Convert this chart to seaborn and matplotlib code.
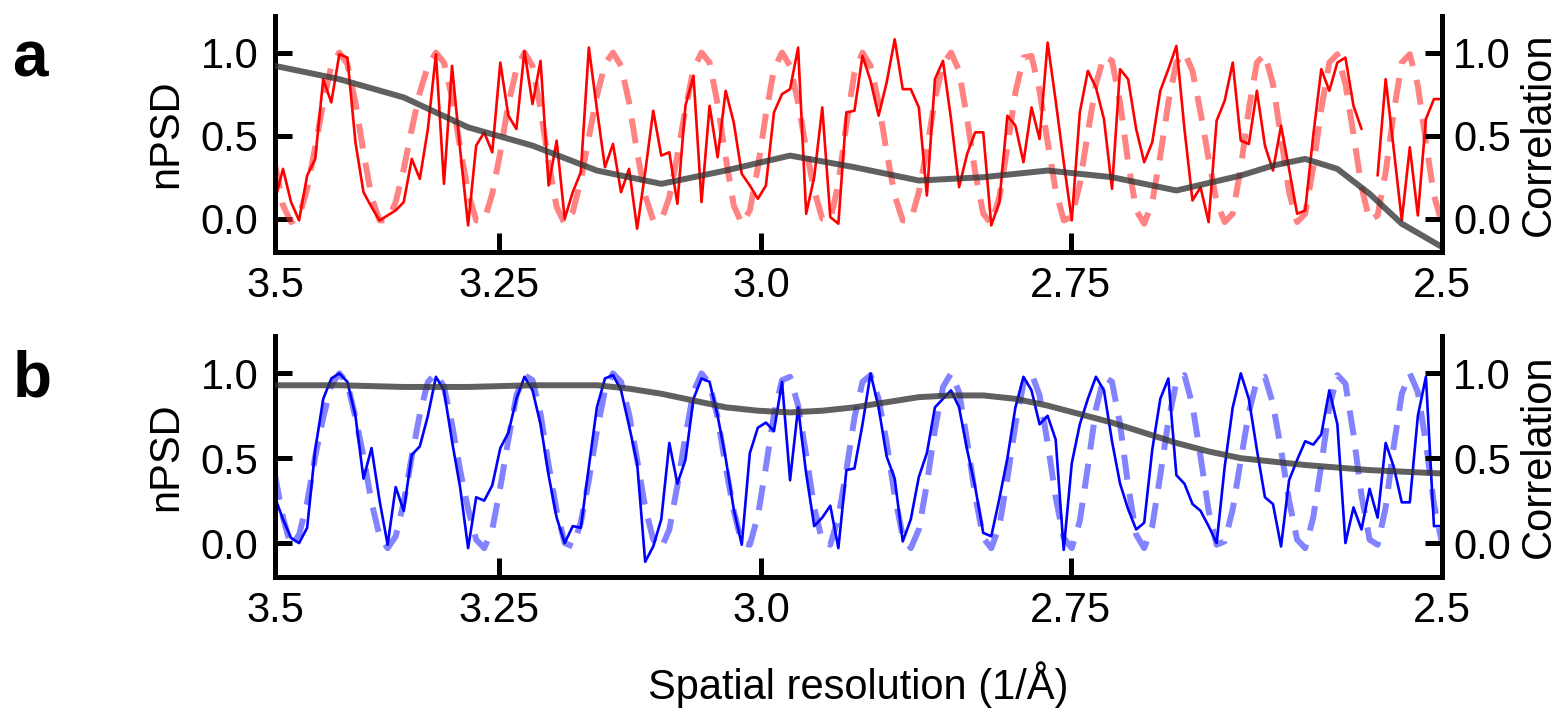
import numpy as np
import pandas as pd
import seaborn as sns
import matplotlib.pyplot as plt

# sample grid in spatial frequency (1/A), axis labelled by resolution
res_ticks = [3.5, 3.25, 3.0, 2.75, 2.5]
res_labels = ["3.5", "3.25", "3.0", "2.75", "2.5"]
n_pts = 146

red_psd = [0.11, 0.30, 0.10, -0.01, 0.26, 0.36, 0.84, 0.70, 0.99, 0.97,
           0.46, 0.16, 0.07, -0.01, 0.02, 0.05, 0.10, 0.36, 0.24, 0.54,
           0.99, 0.21, 0.92, 0.42, -0.04, 0.44, 0.52, 0.40, 0.94, 0.62,
           0.54, 1.01, 0.69, 0.95, 0.20, 0.47, 0.00, 0.16, 0.28, 1.03,
           0.66, 0.31, 0.45, 0.16, 0.30, -0.06, 0.28, 0.65, 0.38, 0.40,
           0.09, 0.68, 0.86, 0.10, 0.68, 0.37, 0.77, 0.58, 0.27, 0.20,
           0.12, 0.20, 0.64, 0.75, 0.78, 1.03, 0.03, 0.25, 0.67, 0.01,
           -0.03, 0.64, 0.65, 0.98, 0.83, 0.62, 0.82, 1.08, 0.78, 0.78,
           0.67, 0.14, 0.84, 0.95, 0.60, 0.19, 0.39, 0.52, 0.52, -0.04,
           0.10, 0.62, 0.56, 0.34, 0.67, 0.48, 1.06, 0.71, 0.34, -0.01,
           0.64, 0.89, 0.79, 0.60, 0.18, 0.90, 0.84, 0.54, 0.34, 0.46,
           0.77, 0.90, 1.04, 0.54, 0.11, 0.19, -0.02, 0.59, 0.71, 0.94,
           0.47, 0.45, 0.77, 0.44, 0.29, 0.56, 0.30, 0.03, 0.05, 0.50,
           0.90, 0.77, 0.94, 0.97, 0.68, 0.54, np.nan, 0.26, 0.84, 0.42,
           -0.01, 0.43, 0.02, 0.60, 0.72, 0.72]

red_fit = [0.33, 0.08, -0.02, 0.01, 0.18, 0.43, 0.70, 0.92, 1.00, 0.93,
           0.70, 0.40, 0.13, -0.01, -0.01, 0.10, 0.30, 0.54, 0.76, 0.92,
           1.00, 0.94, 0.73, 0.43, 0.16, -0.01, -0.01, 0.15, 0.40, 0.69,
           0.90, 1.00, 0.92, 0.66, 0.34, 0.07, -0.03, 0.04, 0.23, 0.49,
           0.74, 0.93, 1.00, 0.92, 0.70, 0.40, 0.14, -0.01, -0.01, 0.13,
           0.38, 0.66, 0.90, 1.00, 0.94, 0.69, 0.37, 0.08, -0.03, 0.05,
           0.31, 0.63, 0.90, 1.00, 0.92, 0.70, 0.42, 0.17, 0.00, -0.01,
           0.21, 0.57, 0.88, 1.00, 0.92, 0.70, 0.40, 0.14, -0.01, -0.01,
           0.16, 0.42, 0.72, 0.93, 1.00, 0.89, 0.60, 0.28, 0.03, -0.03,
           0.13, 0.43, 0.76, 0.97, 0.98, 0.77, 0.46, 0.17, -0.01, 0.01,
           0.21, 0.52, 0.81, 0.98, 0.95, 0.70, 0.34, 0.05, -0.03, 0.10,
           0.38, 0.70, 0.94, 1.00, 0.89, 0.64, 0.36, 0.10, -0.02, 0.03,
           0.31, 0.66, 0.94, 0.99, 0.81, 0.49, 0.16, -0.02, 0.03, 0.31,
           0.66, 0.94, 0.99, 0.81, 0.51, 0.19, -0.01, 0.02, 0.28, 0.64,
           0.94, 0.99, 0.80, 0.46, 0.14, -0.03]

corr_a_idx = [0, 8, 16, 24, 32, 40, 48, 56, 64, 72, 80, 88, 96, 104, 112,
              120, 124, 128, 132, 136, 140, 145]
corr_a = [0.92, 0.84, 0.73, 0.55, 0.44, 0.29, 0.21, 0.29, 0.38, 0.31, 0.23,
          0.25, 0.29, 0.25, 0.17, 0.26, 0.32, 0.36, 0.30, 0.15, -0.03, -0.17]

blue_psd = [0.27, 0.14, 0.03, 0.00, 0.09, 0.55, 0.85, 0.97, 1.00, 0.95,
            0.75, 0.38, 0.56, 0.25, -0.01, 0.33, 0.19, 0.52, 0.57, 0.75,
            0.98, 0.90, 0.60, 0.33, -0.03, 0.27, 0.25, 0.34, 0.56, 0.65,
            0.85, 0.98, 0.90, 0.70, 0.40, 0.15, 0.00, 0.10, 0.09, 0.45,
            0.80, 0.97, 0.99, 0.90, 0.69, 0.47, -0.11, -0.02, 0.14, 0.59,
            0.35, 0.49, 0.85, 0.97, 0.95, 0.75, 0.50, 0.20, -0.01, 0.53,
            0.68, 0.71, 0.66, 0.95, 0.37, 0.80, 0.41, 0.10, 0.15, 0.22,
            -0.03, 0.43, 0.44, 0.70, 1.00, 0.80, 0.51, 0.38, 0.01, 0.14,
            0.39, 0.53, 0.80, 0.85, 0.90, 0.80, 0.55, 0.33, 0.06, 0.04,
            0.26, 0.50, 0.80, 0.98, 0.90, 0.70, 0.75, 0.61, -0.04, 0.47,
            0.70, 0.85, 0.98, 0.90, 0.60, 0.35, 0.20, 0.08, 0.12, 0.55,
            0.85, 0.97, 0.40, 0.35, 0.23, 0.19, 0.10, 0.00, 0.45, 0.80,
            1.00, 0.85, 0.55, 0.27, 0.23, -0.02, 0.37, 0.49, 0.60, 0.58,
            0.64, 0.90, 0.70, 0.00, 0.21, 0.08, 0.32, 0.15, 0.59, 0.45,
            0.24, 0.24, 0.75, 0.98, 0.10, 0.10]

blue_fit = [0.40, 0.15, -0.02, 0.05, 0.24, 0.51, 0.74, 0.93, 1.00, 0.94,
            0.74, 0.51, 0.24, 0.04, -0.03, 0.04, 0.24, 0.51, 0.76, 0.95,
            1.00, 0.92, 0.70, 0.43, 0.20, 0.02, -0.03, 0.08, 0.33, 0.61,
            0.87, 0.99, 0.96, 0.76, 0.46, 0.19, 0.00, -0.02, 0.12, 0.37,
            0.66, 0.90, 1.00, 0.95, 0.76, 0.49, 0.21, 0.02, -0.03, 0.08,
            0.34, 0.63, 0.89, 1.00, 0.94, 0.74, 0.45, 0.19, 0.00, -0.01,
            0.16, 0.45, 0.76, 0.96, 0.98, 0.81, 0.52, 0.21, 0.01, -0.01,
            0.15, 0.43, 0.74, 0.95, 0.99, 0.85, 0.59, 0.28, 0.04, -0.03,
            0.08, 0.35, 0.67, 0.92, 1.00, 0.89, 0.60, 0.28, 0.03, -0.03,
            0.10, 0.38, 0.70, 0.94, 1.00, 0.87, 0.59, 0.27, 0.03, -0.03,
            0.13, 0.45, 0.79, 0.98, 0.95, 0.70, 0.34, 0.05, -0.03, 0.10,
            0.40, 0.72, 0.95, 0.99, 0.81, 0.51, 0.19, -0.01, 0.01, 0.20,
            0.49, 0.77, 0.96, 0.98, 0.82, 0.55, 0.25, 0.02, -0.03, 0.15,
            0.46, 0.80, 0.99, 0.94, 0.64, 0.28, 0.02, -0.01, 0.21, 0.57,
            0.88, 1.00, 0.89, 0.59, 0.23, 0.00]

corr_b_idx = [0, 8, 16, 24, 32, 40, 44, 48, 52, 56, 60, 64, 68, 72, 76,
              80, 84, 88, 92, 96, 100, 104, 108, 112, 116, 120, 128, 136, 145]
corr_b = [0.93, 0.93, 0.92, 0.92, 0.93, 0.93, 0.91, 0.88, 0.84, 0.80, 0.78,
          0.77, 0.78, 0.80, 0.83, 0.86, 0.87, 0.87, 0.85, 0.81, 0.76, 0.71,
          0.65, 0.59, 0.54, 0.50, 0.46, 0.43, 0.41]

freq = np.linspace(1 / 3.5, 1 / 2.5, n_pts)

sns.set_style("white")
plt.rcParams['font.family'] = ['Liberation Sans', 'DejaVu Sans']
plt.rcParams['text.color'] = 'black'
plt.rcParams['axes.labelcolor'] = 'black'
plt.rcParams['xtick.color'] = 'black'
plt.rcParams['ytick.color'] = 'black'

fig = plt.figure(figsize=(15.64, 7.15), dpi=100)
ax_a = fig.add_axes([0.1758, 0.6476, 0.7462, 0.330])
ax_b = fig.add_axes([0.1758, 0.193, 0.7462, 0.337])

spine_w = 3.6
fs = 30


def draw_panel(ax, psd, fit, corr_idx, corr, solid_col, fit_col, letter):
    df = pd.DataFrame({"f": freq, "psd": psd, "fit": fit})
    df["seg"] = df["psd"].isna().cumsum()
    sns.lineplot(data=df, x="f", y="fit", ax=ax, color=fit_col, alpha=0.6,
                 lw=4.3, linestyle=(0, (4.2, 2.4)), estimator=None, sort=False)
    sns.lineplot(data=df.dropna(), x="f", y="psd", units="seg", ax=ax,
                 color=solid_col, lw=1.9, estimator=None, sort=False)
    ax.set_xlim(1 / 3.5, 1 / 2.5)
    ax.set_ylim(-0.2, 1.22)
    ax.set_xticks([1 / r for r in res_ticks])
    ax.set_xticklabels(res_labels)
    ax.set_yticks([0.0, 0.5, 1.0])
    ax.set_yticklabels(["0.0", "0.5", "1.0"])
    ax.set_xlabel("")
    ax.set_ylabel("nPSD", fontsize=fs, labelpad=10)
    ax.tick_params(axis='x', bottom=True, direction='in', length=14,
                   width=spine_w, labelsize=fs, pad=10, color='black')
    ax.tick_params(axis='y', left=True, direction='in', length=12,
                   width=spine_w, labelsize=fs, pad=12, color='black')
    ax.spines['top'].set_visible(False)
    ax.spines['right'].set_visible(False)
    for s in ['left', 'bottom']:
        ax.spines[s].set_linewidth(spine_w)
        ax.spines[s].set_color('black')

    tw = ax.twinx()
    sns.lineplot(x=freq[corr_idx], y=corr, ax=tw, color='#333333', alpha=0.78,
                 lw=4.3, estimator=None, sort=False)
    tw.set_ylim(-0.2, 1.22)
    tw.set_yticks([0.0, 0.5, 1.0])
    tw.set_yticklabels(["0.0", "0.5", "1.0"])
    tw.set_ylabel("Correlation", fontsize=fs, labelpad=6)
    tw.tick_params(axis='y', right=True, direction='in', length=12,
                   width=spine_w, labelsize=fs, pad=8, color='black')
    for s in ['top', 'left', 'bottom']:
        tw.spines[s].set_visible(False)
    tw.spines['right'].set_linewidth(spine_w)
    tw.spines['right'].set_color('black')

    pos = ax.get_position()
    fig.text(0.008, pos.y1 - 0.085, letter, fontsize=46, fontweight='bold',
             ha='left', va='baseline')


draw_panel(ax_a, red_psd, red_fit, corr_a_idx, corr_a, '#ff0000', '#ff3030', 'a')
draw_panel(ax_b, blue_psd, blue_fit, corr_b_idx, corr_b, '#0000ff', '#3030ff', 'b')

ax_b.set_xlabel("Spatial resolution (1/Å)", fontsize=fs, labelpad=22)

fig.savefig("out.png", dpi=100)
